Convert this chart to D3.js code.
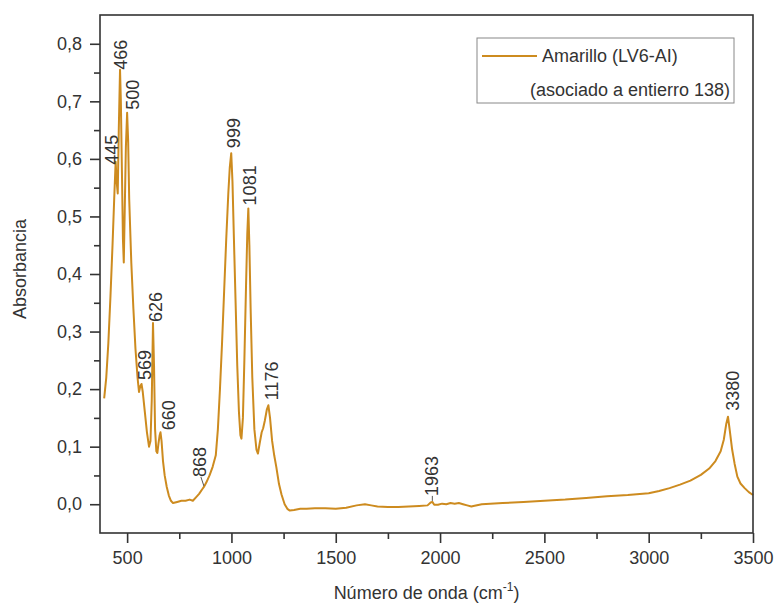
<!DOCTYPE html>
<html>
<head>
<meta charset="utf-8">
<script src="https://cdn.jsdelivr.net/npm/d3@7"></script>
<style>
  body { margin: 0; background: #fff; }
  svg { display: block; font-family: "Liberation Sans", Arial, sans-serif; }
</style>
</head>
<body>
<div id="chart"></div>
<script>
// spectrum
var waveNumber = [
  390, 400, 410, 420, 430, 438, 445, 450, 455, 460, 466, 470, 475, 480, 484, 488, 494, 500,
  505, 510, 520, 530, 540, 550, 557, 563, 569, 575, 585, 595, 605, 612, 618, 624, 629, 634,
  640, 645, 650, 656, 660, 665, 672, 680, 690, 700, 710, 720, 740, 760, 780, 800, 815, 830,
  845, 860, 868, 880, 895, 910, 925, 935, 945, 955, 965, 975, 985, 992, 999, 1005, 1012, 1020,
  1028, 1036, 1043, 1048, 1055, 1062, 1070, 1076, 1081, 1086, 1092, 1100, 1110, 1120, 1127,
  1135, 1145, 1152, 1160, 1170, 1177, 1185, 1195, 1205, 1215, 1228, 1240, 1255, 1268, 1280,
  1300, 1330, 1360, 1400, 1450, 1500, 1550, 1600, 1640, 1670, 1700, 1750, 1800, 1850, 1900,
  1940, 1955, 1963, 1972, 1990, 2010, 2030, 2050, 2070, 2090, 2110, 2130, 2150, 2160, 2200,
  2300, 2400, 2500, 2600, 2700, 2800, 2900, 3000, 3050, 3100, 3150, 3200, 3250, 3290, 3320,
  3345, 3360, 3372, 3380, 3388, 3400, 3412, 3425, 3440, 3460, 3480, 3500
];
var absorbance = [
  0.184, 0.22, 0.28, 0.36, 0.45, 0.53, 0.595, 0.56, 0.54, 0.65, 0.755, 0.70, 0.58, 0.46, 0.42, 0.50, 0.62, 0.68,
  0.63, 0.53, 0.42, 0.34, 0.27, 0.22, 0.195, 0.205, 0.209, 0.195, 0.16, 0.125, 0.10, 0.11, 0.18, 0.315, 0.24, 0.13,
  0.092, 0.089, 0.105, 0.12, 0.125, 0.11, 0.075, 0.05, 0.03, 0.015, 0.006, 0.002, 0.004, 0.006, 0.006, 0.008, 0.006, 0.012,
  0.018, 0.026, 0.03, 0.038, 0.05, 0.065, 0.085, 0.13, 0.20, 0.28, 0.37, 0.46, 0.54, 0.585, 0.61, 0.56, 0.46, 0.35,
  0.24, 0.16, 0.12, 0.114, 0.15, 0.25, 0.38, 0.47, 0.514, 0.45, 0.34, 0.22, 0.13, 0.095, 0.088,
  0.105, 0.125, 0.132, 0.145, 0.165, 0.172, 0.15, 0.11, 0.085, 0.065, 0.035, 0.017, 0.0, -0.008, -0.011,
  -0.010, -0.008, -0.008, -0.007, -0.007, -0.008, -0.006, -0.002, 0.000, -0.002, -0.004, -0.005, -0.005, -0.004, -0.003,
  -0.002, 0.003, 0.004, -0.001, -0.001, 0.001, 0.0, 0.002, 0.001, 0.002, 0.0, -0.002, -0.004, -0.003, 0.0,
  0.002, 0.004, 0.006, 0.008, 0.011, 0.014, 0.016, 0.019, 0.023, 0.028, 0.034, 0.041, 0.051, 0.062, 0.075,
  0.092, 0.112, 0.14, 0.152, 0.13, 0.095, 0.07, 0.048, 0.036, 0.028, 0.021, 0.016
];
var peakLabels = [445, 466, 500, 569, 626, 660, 868, 999, 1081, 1176, 1963, 3380];
var xTicks = [500, 1000, 1500, 2000, 2500, 3000, 3500];
var xMinorTicks = [750, 1250, 1750, 2250, 2750, 3250];
var yTicks = [0, 0.1, 0.2, 0.3, 0.4, 0.5, 0.6, 0.7, 0.8];
var yMinorTicks = [0.05, 0.15, 0.25, 0.35, 0.45, 0.55, 0.65, 0.75];
var seriesName = 'Amarillo (LV6-AI)';
var seriesNote = '(asociado a entierro 138)';

var width = 777, height = 603;
var margin = { top: 15, right: 24, bottom: 70, left: 100 };
var lineColor = '#cd8b1f';
var ink = '#333';

// nudges for the peak labels [dx, gap above peak, leader line]
var nudge = {
  445: [-4, -3], 466: [0, 0], 500: [5, 3], 569: [3, 4], 626: [3, 1], 660: [8, 2],
  868: [-4, 10, true], 999: [2, 5], 1081: [1, 3], 1176: [3, 5], 1963: [-1, 6, true], 3380: [5, 6]
};

var svg = d3.select('#chart').append('svg')
  .attr('width', width)
  .attr('height', height);

var x = d3.scaleLinear().domain([370, 3500]).range([margin.left, width - margin.right]);
var y = d3.scaleLinear().domain([-0.05, 0.85]).range([height - margin.bottom, margin.top]);

var comma = d3.formatLocale({ decimal: ',', thousands: '.', grouping: [3], currency: ['', ''] });

var points = waveNumber.map(function(w, i) { return [w, absorbance[i]]; });

// spectrum
svg.append('path')
  .datum(points)
  .attr('fill', 'none')
  .attr('stroke', lineColor)
  .attr('stroke-width', 2)
  .attr('stroke-linejoin', 'round')
  .attr('d', d3.line()
    .x(function(d) { return x(d[0]); })
    .y(function(d) { return y(d[1]); }));

// frame
svg.append('rect')
  .attr('x', x.range()[0])
  .attr('y', y.range()[1])
  .attr('width', x.range()[1] - x.range()[0])
  .attr('height', y.range()[0] - y.range()[1])
  .attr('fill', 'none')
  .attr('stroke', ink)
  .attr('stroke-width', 1.6);

function styleAxis(g) {
  g.select('.domain').remove();
  g.selectAll('line').attr('stroke', ink).attr('stroke-width', 1.6);
  g.selectAll('text').attr('fill', ink).attr('font-size', 18)
    .attr('font-family', '"Liberation Sans", Arial, sans-serif');
}

svg.append('g')
  .attr('transform', 'translate(0,' + (height - margin.bottom) + ')')
  .call(d3.axisBottom(x).tickValues(xTicks).tickFormat(d3.format('d')).tickSize(10).tickPadding(8))
  .call(styleAxis);

svg.append('g')
  .attr('transform', 'translate(0,' + (height - margin.bottom) + ')')
  .call(d3.axisBottom(x).tickValues(xMinorTicks).tickFormat('').tickSize(6))
  .call(styleAxis);

svg.append('g')
  .attr('transform', 'translate(' + margin.left + ',0)')
  .call(d3.axisLeft(y).tickValues(yTicks).tickFormat(comma.format('.1f')).tickSize(10).tickPadding(8))
  .call(styleAxis);

svg.append('g')
  .attr('transform', 'translate(' + margin.left + ',0)')
  .call(d3.axisLeft(y).tickValues(yMinorTicks).tickFormat('').tickSize(6))
  .call(styleAxis);

// axis titles
var xTitle = svg.append('text')
  .attr('x', (x.range()[0] + x.range()[1]) / 2)
  .attr('y', 599)
  .attr('text-anchor', 'middle')
  .attr('font-size', 18)
  .attr('fill', ink)
  .text('Número de onda (cm');
xTitle.append('tspan').attr('font-size', 12).attr('dy', -8).text('-1');
xTitle.append('tspan').attr('dy', 8).text(')');

svg.append('text')
  .attr('transform', 'translate(26,269) rotate(-90)')
  .attr('text-anchor', 'middle')
  .attr('font-size', 18)
  .attr('fill', ink)
  .text('Absorbancia');

// peak labels sit above the highest point near their wavenumber
function peakAt(w) {
  var best = null;
  waveNumber.forEach(function(v, i) {
    if (Math.abs(v - w) <= 5 && (best === null || absorbance[i] > absorbance[best])) best = i;
  });
  return best;
}

peakLabels.forEach(function(w) {
  var n = nudge[w] || [0, 4];
  var i = peakAt(w);
  var px = x(waveNumber[i]), py = y(absorbance[i]);
  var lx = px + n[0], ly = py - n[1];
  if (n[2]) {
    svg.append('line')
      .attr('x1', lx + 1).attr('y1', ly)
      .attr('x2', px).attr('y2', py - 1)
      .attr('stroke', '#555')
      .attr('stroke-width', 1);
  }
  svg.append('text')
    .attr('transform', 'translate(' + lx + ',' + ly + ') rotate(-90)')
    .attr('dy', '0.36em')
    .attr('font-size', 18)
    .attr('fill', ink)
    .text(w);
});

// legend
var legend = svg.append('g');
legend.append('rect')
  .attr('x', 477).attr('y', 38)
  .attr('width', 257).attr('height', 65)
  .attr('fill', '#fff')
  .attr('stroke', '#888')
  .attr('stroke-width', 1);
legend.append('line')
  .attr('x1', 482).attr('x2', 537)
  .attr('y1', 56).attr('y2', 56)
  .attr('stroke', lineColor)
  .attr('stroke-width', 2);
legend.append('text')
  .attr('x', 542).attr('y', 56)
  .attr('dy', '0.35em')
  .attr('font-size', 18)
  .attr('fill', ink)
  .text(seriesName);
legend.append('text')
  .attr('x', 530).attr('y', 90)
  .attr('dy', '0.35em')
  .attr('font-size', 18)
  .attr('fill', ink)
  .text(seriesNote);
</script>
</body>
</html>
